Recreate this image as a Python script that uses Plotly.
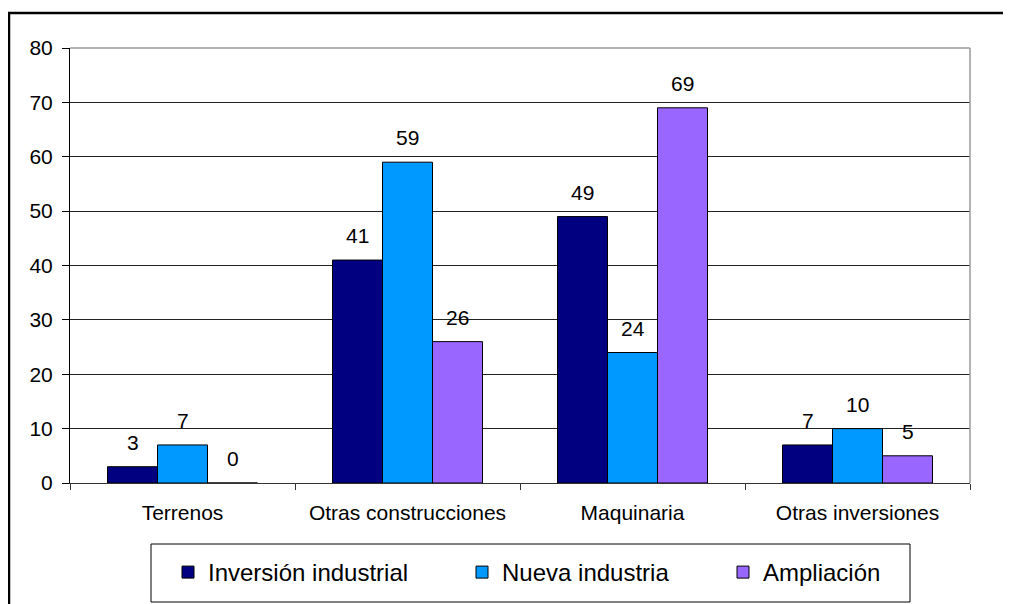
import plotly.graph_objects as go

categories = ["Terrenos", "Otras construcciones", "Maquinaria", "Otras inversiones"]
inversion_industrial = [3, 41, 49, 7]
nueva_industria = [7, 59, 24, 10]
ampliacion = [0, 26, 69, 5]

series = [
    ("Inversión industrial", inversion_industrial, "#000080"),
    ("Nueva industria", nueva_industria, "#0099FF"),
    ("Ampliación", ampliacion, "#9966FF"),
]
legend_widths = [249, 216, None]

FONT = "Liberation Sans, Arial, sans-serif"
W, H = 1011, 604
# the page body adds an 8px offset, so margins are shifted to compensate
L, T = 62, 40
pw, ph = 900, 435
R, B = W - L - pw, H - T - ph


def px_x(x):
    return (x - L) / pw


def px_y(y):
    return (T + ph - y) / ph


fig = go.Figure()
for (name, values, color), lw in zip(series, legend_widths):
    fig.add_trace(go.Bar(
        x=categories, y=values, name=name, legendwidth=lw,
        marker=dict(color=color, line=dict(color="black", width=1)),
    ))

# value labels above each bar
shifts = [-50, 0, 50]
for (name, values, color), dx in zip(series, shifts):
    for cat, v in zip(categories, values):
        fig.add_annotation(
            x=cat, y=v, text=str(v), showarrow=False,
            xshift=dx, yshift=11, yanchor="bottom",
            font=dict(family=FONT, size=21, color="black"),
        )

# outer chart border (cut at right and bottom)
fig.add_shape(type="rect", xref="paper", yref="paper",
              x0=px_x(1), x1=px_x(W + 5), y0=px_y(H + 5), y1=px_y(5),
              line=dict(color="black", width=2.5), layer="below")
# gray plot border top/right
fig.add_shape(type="line", xref="paper", yref="paper", x0=0, x1=1, y0=1, y1=1,
              line=dict(color="#999999", width=1.5))
fig.add_shape(type="line", xref="paper", yref="paper", x0=1, x1=1, y0=0, y1=1,
              line=dict(color="#999999", width=1.5))
# legend frame
fig.add_shape(type="rect", xref="paper", yref="paper",
              x0=px_x(143), x1=px_x(902), y0=px_y(594), y1=px_y(536),
              line=dict(color="black", width=1), fillcolor="white", layer="below")

fig.update_layout(
    width=W, height=H,
    margin=dict(l=L, r=R, t=T, b=B, autoexpand=False),
    paper_bgcolor="white", plot_bgcolor="white",
    barmode="group", bargap=1 / 3, bargroupgap=0,
    font=dict(family=FONT, size=21, color="black"),
    showlegend=True,
    legend=dict(
        orientation="h", x=px_x(160), xanchor="left",
        y=px_y(542), yanchor="top",
        borderwidth=0, bgcolor="rgba(0,0,0,0)",
        font=dict(family=FONT, size=24, color="black"),
        traceorder="normal",
    ),
    xaxis=dict(
        showline=True, linecolor="#333333", linewidth=1,
        ticks="outside", tickson="boundaries", ticklen=6, tickcolor="#333333",
        ticklabelstandoff=11,
        tickfont=dict(family=FONT, size=21, color="black"),
    ),
    yaxis=dict(
        range=[0, 80], dtick=10, tick0=0,
        showline=True, linecolor="black", linewidth=1,
        ticks="outside", ticklen=7, tickcolor="black",
        ticklabelstandoff=5,
        showgrid=True, gridcolor="#222222", gridwidth=1,
        zeroline=False,
        tickfont=dict(family=FONT, size=21, color="black"),
    ),
)

fig.write_html("out.html")
